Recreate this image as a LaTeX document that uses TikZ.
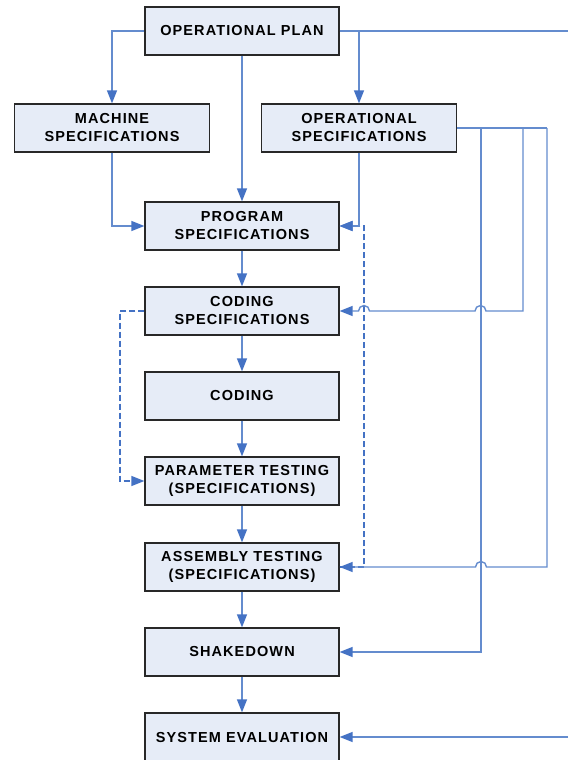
\documentclass[tikz,border=0pt]{standalone}
\usepackage{fontspec}
\setmainfont{Liberation Sans}[LetterSpace=7.6]
\usepackage{xcolor}
\usetikzlibrary{arrows.meta}

\definecolor{boxfill}{RGB}{230,236,247}
\definecolor{boxline}{RGB}{40,40,40}
\definecolor{linkcol}{RGB}{100,140,206}
\definecolor{tipcol}{RGB}{68,114,196}

\tikzset{
    stage/.style={draw=boxline, line width=1.3pt, fill=boxfill, minimum width=194pt,
        minimum height=48pt, inner sep=0pt, align=center,
        font=\fontsize{14.5}{18}\selectfont\bfseries},
    line/.style={draw=linkcol, line width=1.4pt},
    link/.style={line, -{Triangle[length=13pt,width=10pt,color=tipcol]}},
    feedback/.style={link, draw=tipcol, dash pattern=on 6pt off 3pt}
}

\begin{document}
\begin{tikzpicture}[x=1pt,y=1pt]
\useasboundingbox (0,0) rectangle (568,-760);

% Planning
\node[stage] (plan) at (242,-31) {OPERATIONAL PLAN};
\node[stage, minimum width=195pt] (mach) at (112,-128) {MACHINE\\SPECIFICATIONS};
\node[stage, minimum width=195pt] (opsp) at (359,-128) {OPERATIONAL\\SPECIFICATIONS};

% Main chain
\node[stage] (prog) at (242,-226) {PROGRAM\\SPECIFICATIONS};
\node[stage] (cspec) at (242,-311) {CODING\\SPECIFICATIONS};
\node[stage] (coding) at (242,-396) {CODING};
\node[stage] (param) at (242,-481) {PARAMETER TESTING\\(SPECIFICATIONS)};
\node[stage] (asm) at (242,-567) {ASSEMBLY TESTING\\(SPECIFICATIONS)};
\node[stage] (shake) at (242,-652) {SHAKEDOWN};
\node[stage] (evalu) at (242,-737) {SYSTEM EVALUATION};

% Helper points
\coordinate (outtop) at (568,-31);
\coordinate (outbot) at (568,-737);
\coordinate (bus1) at (481,-128);
\coordinate (bus2) at (523,-128);
\coordinate (bus3) at (547,-128);
\coordinate (fbtop) at (364,-226);
\coordinate (fbleft) at (120,-311);

% Feedback (dashed)
\draw[feedback] (asm.east) -| (fbtop) -- (prog.east);
\draw[feedback] (cspec.west) -- (fbleft) |- (param.west);

% From the operational plan
\draw[link] (plan.west) -| (mach.north);
\draw[link] (plan.south) -- (prog.north);
\draw[line] (plan.east) -- (outtop);
\draw[link] (opsp |- plan.east) -- (opsp.north);

% Into program specifications
\draw[link] (mach.south) |- (prog.west);
\draw[link] (opsp.south) |- (prog.east);

% Bus from operational specifications
\draw[line] (opsp.east) -- (bus3);
\draw[link] (bus2) -- (523,-311) -- (486,-311) arc[start angle=0, end angle=180, radius=5.5pt]
    -- (369.5,-311) arc[start angle=0, end angle=180, radius=5.5pt] -- (cspec.east);
\draw[link] (bus3) -- (547,-567) -- (486.5,-567) arc[start angle=0, end angle=180, radius=5.5pt]
    -- (asm.east);
\draw[link] (bus1) |- (shake.east);

% Main chain arrows
\foreach \a/\b in {prog/cspec, cspec/coding, coding/param, param/asm, asm/shake, shake/evalu} {
    \draw[link] (\a.south) -- (\b.north);
}

\draw[link] (outbot) -- (evalu.east);
\end{tikzpicture}
\end{document}
